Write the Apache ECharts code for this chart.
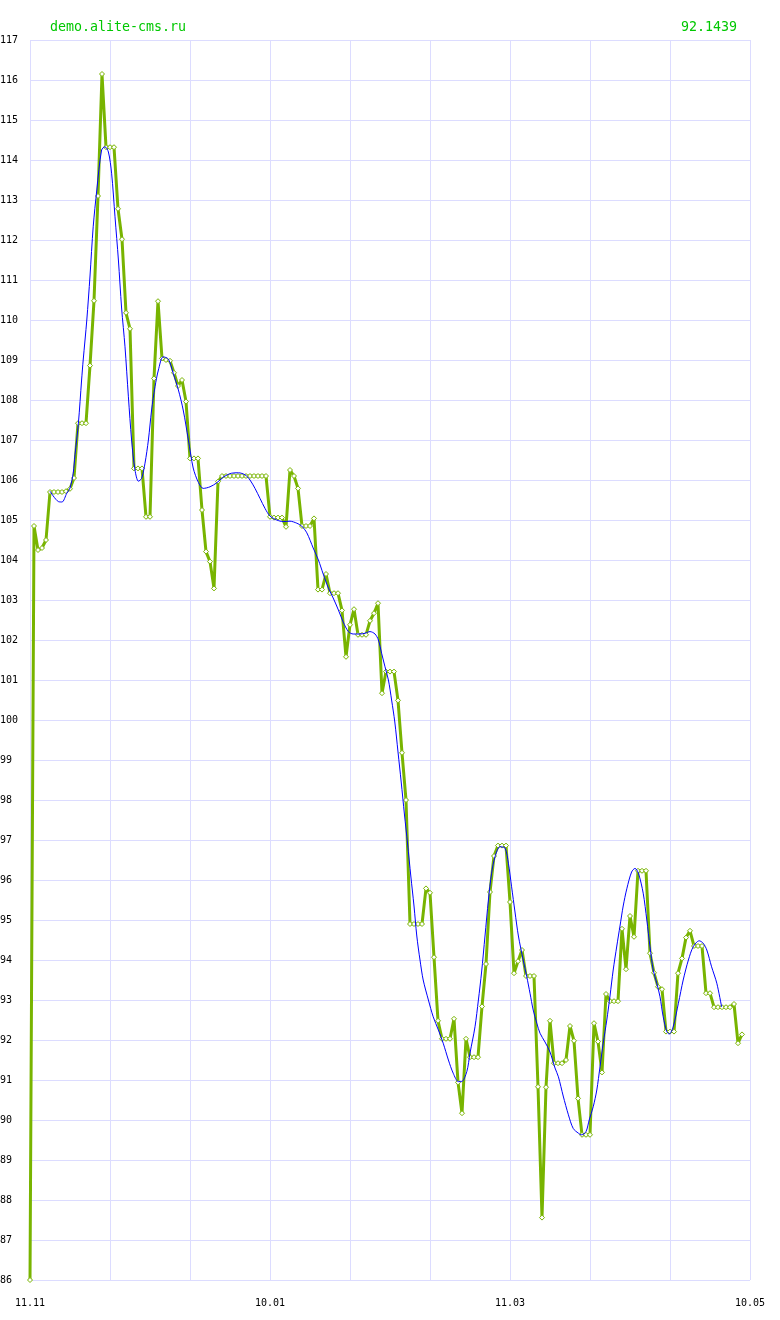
<!DOCTYPE html>
<html>
<head>
<meta charset="utf-8">
<script src="https://cdn.jsdelivr.net/npm/echarts@6/dist/echarts.min.js"></script>
<style>
html,body{margin:0;padding:0;background:#fff;overflow:hidden;}
#c{width:780px;height:1320px;}
</style>
</head>
<body>
<div id="c"></div>
<script>
// ---- data ----
var siteName = 'demo.alite-cms.ru';
var lastValueText = '92.1439';
var xTickValues = [0, 60, 120, 180];
var xTickLabels = ['11.11', '10.01', '11.03', '10.05'];
var yMin = 86, yMax = 117;

// daily price (one value per day, starting 11.11)
var priceValues = [
  86, 104.85, 104.25, 104.3, 104.5, 105.7, 105.7, 105.7, 105.7, 105.72,
  105.78, 106.05, 107.42, 107.42, 107.42, 108.86, 110.48, 113.1, 116.15, 114.32,
  114.32, 114.32, 112.78, 112.02, 110.18, 109.78, 106.29, 106.29, 106.29, 105.08,
  105.08, 108.54, 110.47, 109.04, 109.0, 108.98, 108.68, 108.35, 108.5, 107.96,
  106.54, 106.54, 106.54, 105.25, 104.21, 103.96, 103.29, 105.96, 106.1, 106.1,
  106.1, 106.1, 106.1, 106.1, 106.1, 106.1, 106.1, 106.1, 106.1, 106.1,
  105.08, 105.06, 105.06, 105.06, 104.83, 106.25, 106.1, 105.79, 104.85, 104.85,
  104.85, 105.04, 103.26, 103.26, 103.65, 103.17, 103.17, 103.17, 102.74, 101.58,
  102.38, 102.77, 102.13, 102.13, 102.13, 102.48, 102.67, 102.92, 100.67, 101.21,
  101.21, 101.21, 100.49, 99.18, 98.0, 94.9, 94.9, 94.9, 94.9, 95.79,
  95.68, 94.07, 92.48, 92.03, 92.03, 92.03, 92.53, 90.94, 90.17, 92.03,
  91.57, 91.57, 91.57, 92.84, 93.9, 95.7, 96.6, 96.86, 96.86, 96.86,
  95.45, 93.67, 93.97, 94.25, 93.6, 93.6, 93.6, 90.83, 87.56, 90.82,
  92.48, 91.42, 91.42, 91.42, 91.5, 92.35, 91.98, 90.54, 89.63, 89.63,
  89.63, 92.42, 91.96, 91.19, 93.15, 92.97, 92.97, 92.97, 94.78, 93.77,
  95.1, 94.58, 96.23, 96.23, 96.23, 94.17, 93.68, 93.33, 93.27, 92.21,
  92.21, 92.21, 93.67, 94.04, 94.56, 94.73, 94.35, 94.35, 94.35, 93.17,
  93.17, 92.82, 92.82, 92.82, 92.82, 92.82, 92.9, 91.92, 92.14
];

// smoothed trend line: day position and value
var trendDays = [
  5, 7.1, 8, 9.2, 10, 10.8, 11.25, 12.1, 12.9, 13.3, 14.2, 15, 15.8, 16.7, 17.9, 18.75, 19.6, 20.4,
  21.25, 22.1, 22.9, 23.75, 24.6, 25.4, 26.25, 27.1, 27.9, 28.75, 29.6, 30.4, 31.25, 32.1,
  33.3, 34.6, 35.8, 37.1, 38.3, 39.6, 40.8, 42.1, 43.3, 45, 46.7, 48.3, 50.4, 52.1, 53.75,
  55, 56.25, 57.5, 58.75, 60, 61.7, 63.3, 65, 66.7, 67.9, 69.2, 70.8, 72.1, 73.3, 74.6,
  75.8, 77.1, 78.3, 79.6, 80.8, 82.5, 83.75, 85, 86.25, 87.1, 87.9, 88.75, 89.6, 90.4,
  91.2, 92, 92.8, 93.6, 94.4, 95.2, 96, 96.7, 97.5, 98.3, 99.6, 100.8, 102.1, 103.3, 104.6,
  105.8, 107.1, 107.9, 109.2, 110, 111.25, 112.1, 112.9, 113.75, 114.6, 115.4, 116.25,
  117.5, 118.75, 119.6, 120.4, 121.25, 122.1, 123.3, 124.2, 125, 125.8, 126.7, 127.5,
  128.75, 130, 131.25, 132.1, 133.3, 134.6, 135.8, 137.1, 137.9, 139, 139.8, 140.8,
  141.7, 142.5, 143.3, 144.2, 145, 145.8, 146.7, 147.5, 148.3, 149.2, 150.4, 151.25,
  152.1, 153.3, 154.2, 155, 155.8, 156.7, 157.5, 158.3, 159.2, 159.8, 160.8, 162.1,
  163.3, 164.6, 165.8, 167.3, 168.3, 169.2, 170.4, 171.7, 172.9
];
var trendValues = [
  105.72, 105.46, 105.45, 105.67, 105.8, 106.17, 106.63, 107.42, 108.5, 109.0, 110.0, 111.1, 112.33, 113.25, 114.25, 114.33, 114.2, 113.67,
  112.58, 111.5, 110.3, 109.33, 108.08, 107.0, 106.25, 105.97, 106.04, 106.42, 107.0, 107.75, 108.33, 108.75,
  109.08, 109.02, 108.67, 108.25, 107.75, 107.0, 106.3, 105.94, 105.79, 105.83, 105.93, 106.07, 106.17, 106.18, 106.13,
  106.0, 105.79, 105.54, 105.29, 105.1, 105.0, 104.96, 104.97, 104.92, 104.85, 104.68, 104.3, 104.0, 103.65, 103.3,
  103.05, 102.75, 102.45, 102.21, 102.15, 102.15, 102.17, 102.21, 102.15, 102.0, 101.67, 101.33, 101.0, 100.5,
  99.95, 99.2, 98.45, 97.65, 96.9, 96.1, 95.35, 94.6, 94.0, 93.5, 93.0, 92.58, 92.25, 91.92, 91.5,
  91.17, 90.96, 90.96, 91.21, 91.67, 92.33, 93.0, 93.7, 94.6, 95.5, 96.17, 96.58,
  96.83, 96.8, 96.42, 95.83, 95.2, 94.6, 94.0, 93.58, 93.17, 92.75, 92.42, 92.17,
  91.95, 91.7, 91.3, 91.08, 90.6, 90.13, 89.79, 89.67, 89.63, 89.71, 90.0, 90.33,
  90.75, 91.33, 91.92, 92.5, 93.1, 93.75, 94.35, 94.85, 95.35, 95.78, 96.2, 96.29,
  96.17, 95.67, 95.0, 94.33, 93.75, 93.42, 93.08, 92.58, 92.21, 92.15, 92.33, 92.92,
  93.5, 94.0, 94.33, 94.48, 94.42, 94.25, 93.83, 93.42, 92.83
];

// ---- chart ----
var priceData = priceValues.map(function (v, i) { return [i, v]; });
var trendData = trendDays.map(function (d, i) { return [d, trendValues[i]]; });

var green = '#78b400';
var gridColor = '#dcdcff';
var font = 'DejaVu Sans Mono';

var chart = echarts.init(document.getElementById('c'), null, { renderer: 'canvas' });
chart.setOption({
  animation: false,
  backgroundColor: '#ffffff',
  title: [
    { text: siteName, left: 50, top: 21, padding: 0,
      textStyle: { color: '#00c800', fontFamily: font, fontSize: 13.3, fontWeight: 'normal' } },
    { text: lastValueText, right: 43, top: 21, padding: 0,
      textStyle: { color: '#00c800', fontFamily: font, fontSize: 13.3, fontWeight: 'normal' } }
  ],
  grid: { left: 30, right: 30, top: 40, bottom: 40, containLabel: false, outerBoundsMode: 'none' },
  xAxis: {
    type: 'value', min: 0, max: 180, interval: 20,
    axisLine: { show: false }, axisTick: { show: false },
    splitLine: { show: true, lineStyle: { color: gridColor, width: 1 } },
    axisLabel: {
      color: '#000', fontFamily: font, fontSize: 10, margin: 18,
      showMinLabel: true, showMaxLabel: true,
      formatter: function (v) {
        var k = xTickValues.indexOf(Math.round(v));
        return k >= 0 ? xTickLabels[k] : '';
      }
    }
  },
  yAxis: {
    type: 'value', min: yMin, max: yMax, interval: 1,
    axisLine: { show: false }, axisTick: { show: false },
    splitLine: { show: true, lineStyle: { color: gridColor, width: 1 } },
    axisLabel: {
      color: '#000', fontFamily: font, fontSize: 10, margin: 30, align: 'left',
      verticalAlign: 'middle', padding: [6, 0, 0, 0],
      showMinLabel: true, showMaxLabel: true
    }
  },
  series: [
    {
      type: 'line', data: priceData, z: 2,
      symbol: 'diamond', symbolSize: 5, showSymbol: true,
      lineStyle: { color: green, width: 3 },
      itemStyle: { color: '#ffffff', borderColor: green, borderWidth: 1 }
    },
    {
      type: 'line', data: trendData, z: 3,
      smooth: 0.3, symbol: 'none',
      lineStyle: { color: '#0000ff', width: 1 }
    }
  ]
});
</script>
</body>
</html>
